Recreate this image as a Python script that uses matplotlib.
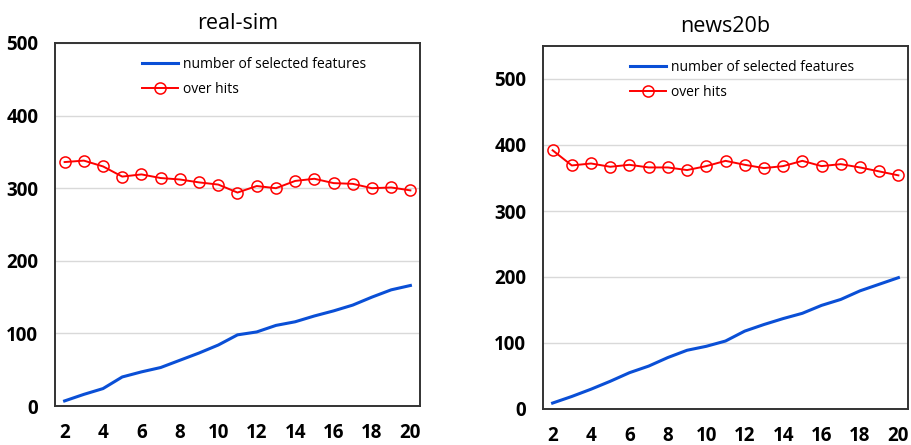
import matplotlib.pyplot as plt

x = list(range(2, 21))

# real-sim
rs_features = [7, 16, 24, 40, 47, 53, 63, 73, 84, 98, 102, 111, 116, 124, 131, 139, 150, 160, 166]
rs_hits = [336, 338, 330, 316, 319, 314, 312, 308, 305, 294, 303, 300, 310, 313, 307, 306, 300, 301, 297]

# news20b
nb_features = [9, 19, 30, 42, 55, 65, 78, 89, 95, 103, 118, 128, 137, 145, 157, 166, 179, 189, 199]
nb_hits = [392, 369, 372, 367, 370, 366, 366, 362, 368, 376, 370, 365, 368, 376, 368, 371, 366, 360, 354]

titles = ["real-sim", "news20b"]
ylims = [500, 550]

plt.rcParams['font.family'] = ['Open Sans', 'DejaVu Sans']

fig = plt.figure(figsize=(9.12, 4.45), dpi=100)
ax1 = fig.add_axes([55/912, 1 - 406/445, 365/912, 363/445])
ax2 = fig.add_axes([543/912, 1 - 409/445, 365/912, 363/445])

for ax, feats, hits, title, top in zip([ax1, ax2], [rs_features, nb_features],
                                       [rs_hits, nb_hits], titles, ylims):
    ax.plot(x, feats, color="#0a4fd6", lw=2.2, label="number of selected features")
    ax.plot(x, hits, color="red", lw=1.4, marker="o", ms=8, mfc="none", mec="red",
            mew=1.1, label="over hits")
    ax.set_xlim(1.5, 20.5)
    ax.set_ylim(0, top)
    ax.set_yticks(range(0, 501, 100))
    ax.set_xticks(range(2, 21, 2))
    ax.grid(axis="y", color="#d9d9d9", lw=1)
    ax.set_axisbelow(True)
    ax.tick_params(length=0, labelsize=13.5, pad=12)
    for lab in ax.get_xticklabels() + ax.get_yticklabels():
        lab.set_fontweight("bold")
    for s in ax.spines.values():
        s.set_color("#333333")
        s.set_linewidth(1.4)
    ax.set_title(title, fontsize=15.5, pad=10)
    ax.legend(loc="upper left", bbox_to_anchor=(0.205, 0.995), frameon=False,
              fontsize=10, handlelength=2.6, handletextpad=0.3, labelspacing=0.7)

plt.savefig("out.png", dpi=100)
